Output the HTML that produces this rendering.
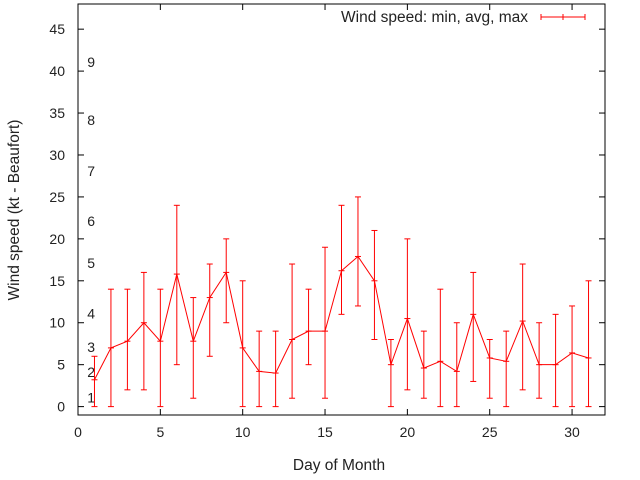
<!DOCTYPE html>
<html><head><meta charset="utf-8"><style>
html,body{margin:0;padding:0;background:#fff;}
svg{display:block;font-family:"Liberation Sans",sans-serif;}
</style></head><body>
<svg id="chart" width="640" height="480" viewBox="0 0 640 480" xmlns="http://www.w3.org/2000/svg">
<rect x="0" y="0" width="640" height="480" fill="#fff"/>
<g id="grid-ticks"></g>
<g id="beaufort"></g>
<g id="series"></g>
<rect x="78" y="4" width="527" height="411" fill="none" stroke="#000" stroke-width="1"/>
<text transform="translate(19,210) rotate(-90)" text-anchor="middle" font-size="15.5" fill="#222">Wind speed (kt - Beaufort)</text>
<text x="339" y="470" text-anchor="middle" font-size="15.5" fill="#222">Day of Month</text>
<g>
<text x="528" y="22" text-anchor="end" font-size="15.5" fill="#222">Wind speed: min, avg, max</text>
<line x1="541" y1="17" x2="585" y2="17" stroke="#f00"/>
<line x1="541" y1="14" x2="541" y2="20" stroke="#f00"/>
<line x1="563" y1="14" x2="563" y2="20" stroke="#f00"/>
<line x1="585" y1="14" x2="585" y2="20" stroke="#f00"/>
</g>
</svg>
<script>
const days = [1,2,3,4,5,6,7,8,9,10,11,12,13,14,15,16,17,18,19,20,21,22,23,24,25,26,27,28,29,30,31];
const minVals = [0,0,2,2,0,5,1,6,10,0,0,0,1,5,1,11,12,8,0,2,1,0,0,3,1,0,2,1,0,0,0];
const avgVals = [3.2,7,7.8,10,7.8,15.8,7.8,13,16,7,4.2,4,8,9,9,16.2,17.9,15,5,10.5,4.6,5.4,4.2,11,5.8,5.4,10.2,5,5,6.4,5.8];
const maxVals = [6,14,14,16,14,24,13,17,20,15,9,9,17,14,19,24,25,21,8,20,9,14,10,16,8,9,17,10,11,12,15];
const xTicks = [0,5,10,15,20,25,30];
const yTicks = [0,5,10,15,20,25,30,35,40,45];
const beaufortLabels = ["1","2","3","4","5","6","7","8","9"];
const beaufortY = [1.1,4.1,7.1,11.1,17.1,22.1,28.1,34.2,41.1];

const X0=78, X1=605, Y0=415, Y1=4, XMIN=0, XMAX=32, YMIN=-1, YMAX=48;
function xs(v){return X0+(v-XMIN)/(XMAX-XMIN)*(X1-X0);}
function ys(v){return Y0-(v-YMIN)/(YMAX-YMIN)*(Y0-Y1);}
const NS="http://www.w3.org/2000/svg";
function mk(tag,attrs,parent){const e=document.createElementNS(NS,tag);for(const k in attrs)e.setAttribute(k,attrs[k]);parent.appendChild(e);return e;}

const tg=document.getElementById('grid-ticks');
xTicks.forEach(t=>{
  const x=xs(t);
  const a=mk('line',{x1:x,y1:Y0,x2:x,y2:Y0-6,stroke:'#000'},tg);
  
  
  mk('line',{x1:x,y1:Y1,x2:x,y2:Y1+6,stroke:'#000'},tg);
  const l=mk('text',{x:x,y:Y0+22,'text-anchor':'middle','font-size':14,fill:'#222'},tg);
  l.textContent=t;
  
  
});
yTicks.forEach(t=>{
  const y=ys(t);
  const a=mk('line',{x1:X0,y1:y,x2:X0+6,y2:y,stroke:'#000'},tg);
  
  
  mk('line',{x1:X1,y1:y,x2:X1-6,y2:y,stroke:'#000'},tg);
  const l=mk('text',{x:X0-13,y:y+5,'text-anchor':'end','font-size':14,fill:'#222'},tg);
  l.textContent=t;
  
  
});
const bg=document.getElementById('beaufort');
beaufortLabels.forEach((s,i)=>{
  const l=mk('text',{x:xs(0.8),y:ys(beaufortY[i])+5,'text-anchor':'middle','font-size':14,fill:'#222'},bg);
  l.textContent=s;
  
  
});
const sg=document.getElementById('series');
days.forEach((d,i)=>{
  const x=xs(d);
  const g=mk('g',{stroke:'#f00','stroke-width':1},sg);
  
  
  mk('line',{x1:x,y1:ys(minVals[i]),x2:x,y2:ys(maxVals[i])},g);
  mk('line',{x1:x-3,y1:ys(minVals[i]),x2:x+3,y2:ys(minVals[i])},g);
  mk('line',{x1:x-3,y1:ys(maxVals[i]),x2:x+3,y2:ys(maxVals[i])},g);
  mk('line',{x1:x-3,y1:ys(avgVals[i]),x2:x+3,y2:ys(avgVals[i])},g);
});
const pts=days.map((d,i)=>xs(d)+','+ys(avgVals[i])).join(' ');
const pl=mk('polyline',{points:pts,fill:'none',stroke:'#f00','stroke-width':1},sg);


</script>
</body></html>
